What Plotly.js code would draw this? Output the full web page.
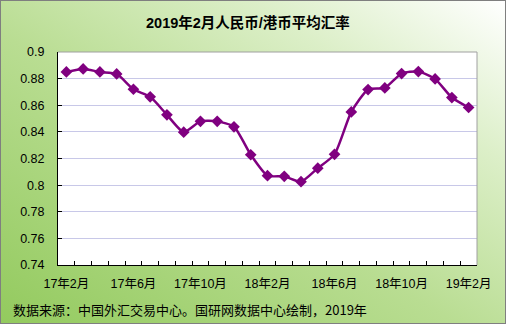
<!DOCTYPE html>
<html><head><meta charset="utf-8">
<script src="https://cdn.plot.ly/plotly-3.0.1.min.js"></script>
<style>
html,body{margin:0;padding:0;}
#wrap{position:relative;width:506px;height:324px;box-sizing:border-box;border:1px solid #7f7f7f;
background:linear-gradient(to top right,#93ca5e 0%,#b9dd92 45%,#dcefc8 75%,#ffffff 100%);overflow:hidden;}
#chart{position:absolute;left:-1px;top:-1px;width:506px;height:324px;}
</style></head>
<body><div id="wrap"><div id="chart"></div></div>
<script>
const months = ["17年2月","17年3月","17年4月","17年5月","17年6月","17年7月","17年8月","17年9月","17年10月","17年11月","17年12月","18年1月","18年2月","18年3月","18年4月","18年5月","18年6月","18年7月","18年8月","18年9月","18年10月","18年11月","18年12月","19年1月","19年2月"];
const rates = [0.885,0.8873,0.885,0.8835,0.872,0.8663,0.8528,0.8398,0.8479,0.8479,0.8438,0.8228,0.8071,0.8066,0.8026,0.8127,0.8231,0.855,0.8718,0.873,0.8838,0.8853,0.8798,0.8658,0.8583];
const labeledMonths = ["17年2月","17年6月","17年10月","18年2月","18年6月","18年10月","19年2月"];
const yTicks = [0.74,0.76,0.78,0.8,0.82,0.84,0.86,0.88,0.9];
const yTickText = ["0.74","0.76","0.78","0.8","0.82","0.84","0.86","0.88","0.9"];
const titleText = "2019年2月人民币/港币平均汇率";
const sourceText = "数据来源：中国外汇交易中心。国研网数据中心绘制，2019年";

const font = '"Liberation Sans", Arial, "Noto Sans CJK SC", sans-serif';
const trace = {
  x: months, y: rates, type: 'scatter', mode: 'lines+markers',
  line: {color: '#800080', width: 2.5, shape: 'spline', smoothing: 0.6},
  marker: {symbol: 'diamond', size: 9, color: '#800080'},
  hoverinfo: 'x+y'
};
const layout = {
  width: 506, height: 324,
  paper_bgcolor: 'rgba(0,0,0,0)', plot_bgcolor: '#ffffff',
  margin: {l: 58, r: 29, t: 52, b: 59},
  showlegend: false,
  title: {text: titleText, font: {family: font, size: 14.5, color: '#000000', weight: 'bold'}, x: 0.49, xanchor: 'center', y: 0.93, yanchor: 'middle'},
  xaxis: {
    type: 'category', tickmode: 'array', tickvals: months,
    ticktext: months.map(m => labeledMonths.includes(m) ? m : ''),
    tickson: 'boundaries', ticks: 'inside', ticklen: 4, tickcolor: '#000000', tickwidth: 1,
    ticklabelstandoff: 7,
    showline: true, linecolor: '#000000', linewidth: 1, mirror: false,
    showgrid: false, zeroline: false,
    tickfont: {family: font, size: 12.5, color: '#000000'}, tickangle: 0,
    range: [-0.5, 24.5]
  },
  yaxis: {
    range: [0.74, 0.9], tickmode: 'array', tickvals: yTicks, ticktext: yTickText,
    ticks: 'inside', ticklen: 4, tickcolor: '#000000',
    ticklabelstandoff: 10,
    showline: true, linecolor: '#000000', linewidth: 1,
    showgrid: true, gridcolor: '#c8c8e8', gridwidth: 1, zeroline: false,
    tickfont: {family: font, size: 12.5, color: '#000000'}
  },
  shapes: [
    {type: 'line', xref: 'paper', yref: 'paper', x0: 0, x1: 1, y0: 1, y1: 1, line: {color: '#a0a0a0', width: 1}},
    {type: 'line', xref: 'paper', yref: 'paper', x0: 1, x1: 1, y0: 0, y1: 1, line: {color: '#a0a0a0', width: 1}}
  ],
  annotations: [{
    text: sourceText, xref: 'paper', yref: 'paper', x: -0.113, y: -0.207,
    xanchor: 'left', yanchor: 'middle', showarrow: false,
    font: {family: '"Noto Sans CJK SC", sans-serif', size: 13, color: '#000000'}
  }]
};
Plotly.newPlot('chart', [trace], layout, {displayModeBar: false, staticPlot: true});
</script></body></html>
